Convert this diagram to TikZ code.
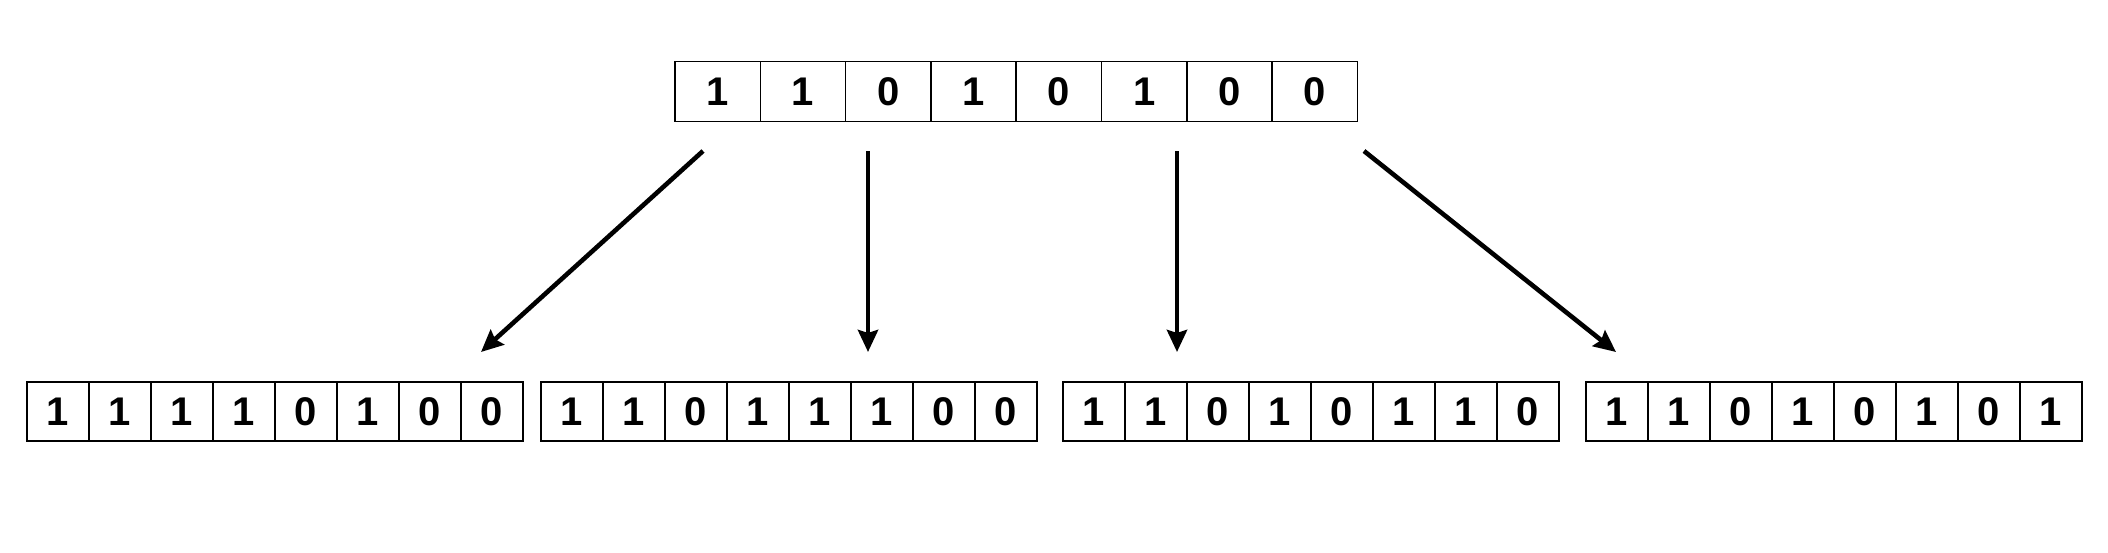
\documentclass[tikz,border=0pt]{standalone}
\usepackage{fontspec}
\setmainfont{Liberation Sans}
\usetikzlibrary{arrows.meta}
\tikzset{
  bit/.style={draw,line width=0.8pt,minimum width=42.65pt,minimum height=30pt,
    inner sep=0pt,font=\fontsize{20}{20}\selectfont\bfseries},
  sbit/.style={bit,minimum width=31pt,minimum height=29.5pt},
  split/.style={line width=2.3pt,-{Stealth[length=11pt,width=10pt,inset=1.5pt]}}
}
\begin{document}
\begin{tikzpicture}[x=0.5pt,y=-0.5pt]
      \useasboundingbox (0,0) rectangle (2108,552);
      % original byte
      \foreach \b [count=\i] in {1,1,0,1,0,1,0,0}
        \node[bit] (t\i) at (675+85.3*\i-42.65,91.5) {\b};
      % the four results
      \foreach \row/\x/\bits in {a/27/{1,1,1,1,0,1,0,0},b/541/{1,1,0,1,1,1,0,0},
                                 c/1063/{1,1,0,1,0,1,1,0},d/1586/{1,1,0,1,0,1,0,1}}
        \foreach \b [count=\i] in \bits
          \node[sbit] (\row\i) at (\x+62*\i-31,411.5) {\b};
      \coordinate (s1) at (703,151);  \coordinate (e1) at (481,352);
      \coordinate (s2) at (868,151);  \coordinate (e2) at (868,352);
      \coordinate (s3) at (1177,151); \coordinate (e3) at (1177,352);
      \coordinate (s4) at (1364,151); \coordinate (e4) at (1616,352);
      \foreach \k in {1,...,4}
        \draw[split] (s\k) -- (e\k);
     \end{tikzpicture}
\end{document}
